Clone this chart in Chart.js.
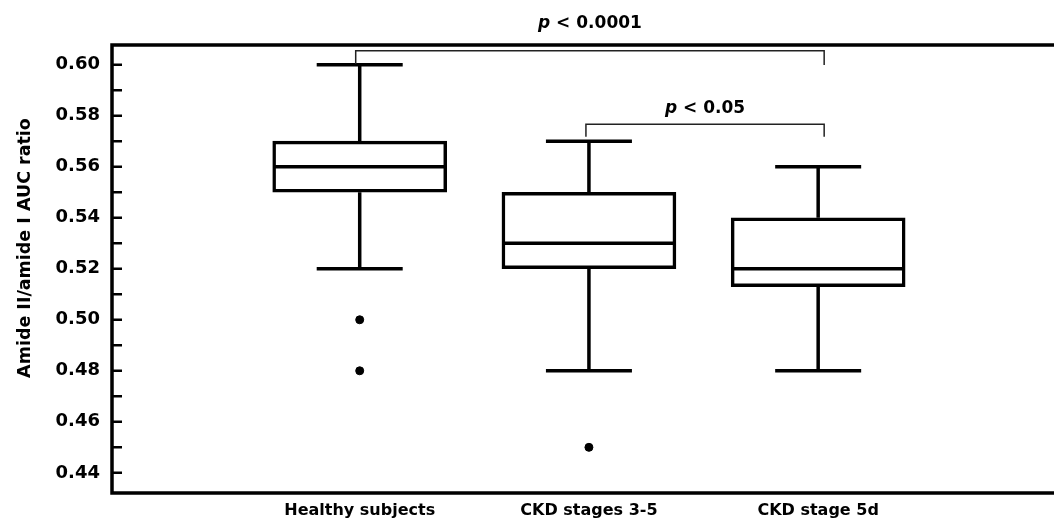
<!DOCTYPE html>
<html lang="en">
<head>
<meta charset="UTF-8">
<title>Amide II/amide I AUC ratio</title>
<script src="https://cdn.jsdelivr.net/npm/chart.js@4.4.1/dist/chart.umd.min.js"></script>
<style>
  html, body { margin: 0; padding: 0; background: #fff; }
  #wrap { width: 1054px; height: 527px; position: relative; }
</style>
</head>
<body>
<div id="wrap"><canvas id="box"></canvas></div>
<script>
// box plot values
const categories = ["Healthy subjects", "CKD stages 3-5", "CKD stage 5d"]
const whiskerLow = [0.52, 0.48, 0.48]
const q1 = [0.55, 0.52, 0.513]
const median = [0.56, 0.53, 0.52]
const q3 = [0.57, 0.55, 0.54]
const whiskerHigh = [0.60, 0.57, 0.56]
const outliers = [[0.50, 0.48], [0.45], []]
const yTicks = [0.44, 0.46, 0.48, 0.50, 0.52, 0.54, 0.56, 0.58, 0.60]
const yMinorTicks = [0.45, 0.47, 0.49, 0.51, 0.53, 0.55, 0.57, 0.59]
const comparisons = [
    {from: 0, to: 2, text: " < 0.0001"},
    {from: 1, to: 2, text: " < 0.05"}
]

const FONT = "'DejaVu Sans', sans-serif"

// where the comparison brackets sit (y in axis units, x offsets in px)
const bracketStyle = [
    {y: 0.6054, yEndL: 0.6003, yEndR: 0.5999, dxL: -4, dxR: 6, labelY: 0.6142},
    {y: 0.5766, yEndL: 0.5717, yEndR: 0.5717, dxL: -3, dxR: 6, labelY: 0.5809}
]

const boxParts = {
    id: "boxParts",
    afterDatasetsDraw(chart) {
        const ctx = chart.ctx
        const xs = chart.scales.x, ys = chart.scales.y
        ctx.save()
        ctx.strokeStyle = "#000"
        ctx.lineWidth = 3.5
        ctx.lineCap = "butt"
        categories.forEach((c, i) => {
            const x = xs.getPixelForValue(i + 1)
            const cap = 43, half = 85
            ctx.beginPath()
            // upper whisker
            ctx.moveTo(x, ys.getPixelForValue(whiskerHigh[i]))
            ctx.lineTo(x, ys.getPixelForValue(q3[i]))
            ctx.moveTo(x - cap, ys.getPixelForValue(whiskerHigh[i]))
            ctx.lineTo(x + cap, ys.getPixelForValue(whiskerHigh[i]))
            // lower whisker
            ctx.moveTo(x, ys.getPixelForValue(q1[i]))
            ctx.lineTo(x, ys.getPixelForValue(whiskerLow[i]))
            ctx.moveTo(x - cap, ys.getPixelForValue(whiskerLow[i]))
            ctx.lineTo(x + cap, ys.getPixelForValue(whiskerLow[i]))
            // median
            ctx.moveTo(x - half, ys.getPixelForValue(median[i]))
            ctx.lineTo(x + half, ys.getPixelForValue(median[i]))
            ctx.stroke()
        })
        ctx.restore()
    },
    afterDraw(chart) {
        const ctx = chart.ctx
        const xs = chart.scales.x, ys = chart.scales.y
        const a = chart.chartArea
        ctx.save()
        // frame: left, top, bottom
        ctx.strokeStyle = "#000"
        ctx.lineWidth = 3.5
        ctx.beginPath()
        ctx.moveTo(chart.width, a.top)
        ctx.lineTo(a.left, a.top)
        ctx.lineTo(a.left, a.bottom)
        ctx.lineTo(chart.width, a.bottom)
        ctx.stroke()
        // inward ticks
        ctx.lineWidth = 2.5
        ctx.beginPath()
        yTicks.concat(yMinorTicks).forEach(v => {
            const y = ys.getPixelForValue(v)
            ctx.moveTo(a.left, y)
            ctx.lineTo(a.left + 10, y)
        })
        ctx.stroke()
        // comparison brackets
        ctx.strokeStyle = "#222"
        ctx.lineWidth = 1.5
        ctx.fillStyle = "#000"
        ctx.textBaseline = "alphabetic"
        comparisons.forEach((cmp, k) => {
            const st = bracketStyle[k]
            const x1 = xs.getPixelForValue(cmp.from + 1) + st.dxL
            const x2 = xs.getPixelForValue(cmp.to + 1) + st.dxR
            const y = ys.getPixelForValue(st.y)
            ctx.beginPath()
            ctx.moveTo(x1, ys.getPixelForValue(st.yEndL))
            ctx.lineTo(x1, y)
            ctx.lineTo(x2, y)
            ctx.lineTo(x2, ys.getPixelForValue(st.yEndR))
            ctx.stroke()
            // "p" in italic, rest upright
            ctx.font = "bold italic 17px " + FONT
            const wp = ctx.measureText("p").width
            ctx.font = "bold 17px " + FONT
            const wr = ctx.measureText(cmp.text).width
            const ly = ys.getPixelForValue(st.labelY)
            let lx = (x1 + x2) / 2 - (wp + wr) / 2
            ctx.textAlign = "left"
            ctx.font = "bold italic 17px " + FONT
            ctx.fillText("p", lx, ly)
            ctx.font = "bold 17px " + FONT
            ctx.fillText(cmp.text, lx + wp, ly)
        })
        // y axis title
        ctx.translate(25, 248)
        ctx.rotate(-Math.PI / 2)
        ctx.textAlign = "center"
        ctx.textBaseline = "middle"
        ctx.font = "bold 17.5px " + FONT
        ctx.fillText("Amide II/amide I AUC ratio", 0, 0)
        ctx.restore()
    }
}

new Chart("box", {
    type: "bar",
    data: {
        datasets: [{
            type: "bar",
            data: categories.map((c, i) => ({x: i + 1, y: [q1[i], q3[i]]})),
            backgroundColor: "#fff",
            borderColor: "#000",
            borderWidth: 3.5,
            borderSkipped: false,
            barThickness: 174,
            order: 2
        }, {
            type: "scatter",
            data: outliers.flatMap((vals, i) => vals.map(v => ({x: i + 1, y: v}))),
            backgroundColor: "#000",
            borderColor: "#000",
            pointRadius: 4,
            order: 1
        }]
    },
    plugins: [boxParts],
    options: {
        responsive: true,
        maintainAspectRatio: false,
        animation: false,
        layout: {padding: {top: 45, right: 0, left: 0, bottom: 0}},
        plugins: {legend: {display: false}, tooltip: {enabled: false}},
        scales: {
            x: {
                type: "linear",
                offset: false,
                min: -0.0806,
                max: 4.007,
                grid: {display: false, drawTicks: false, offset: false},
                border: {display: false},
                afterBuildTicks: s => { s.ticks = categories.map((c, i) => ({value: i + 1})) },
                afterFit: s => { s.height = 34 },
                ticks: {
                    callback: v => categories[v - 1] || "",
                    autoSkip: false,
                    maxRotation: 0,
                    padding: 8,
                    color: "#000",
                    font: {family: FONT, size: 16, weight: "bold"}
                }
            },
            y: {
                min: 0.4321,
                max: 0.6077,
                grid: {display: false, drawTicks: false},
                border: {display: false},
                afterBuildTicks: s => { s.ticks = yTicks.map(v => ({value: v})) },
                afterFit: s => { s.width = 112 },
                ticks: {
                    callback: v => v.toFixed(2),
                    padding: 12,
                    color: "#000",
                    font: {family: FONT, size: 18, weight: "bold"}
                }
            }
        }
    }
})
</script>
</body>
</html>
